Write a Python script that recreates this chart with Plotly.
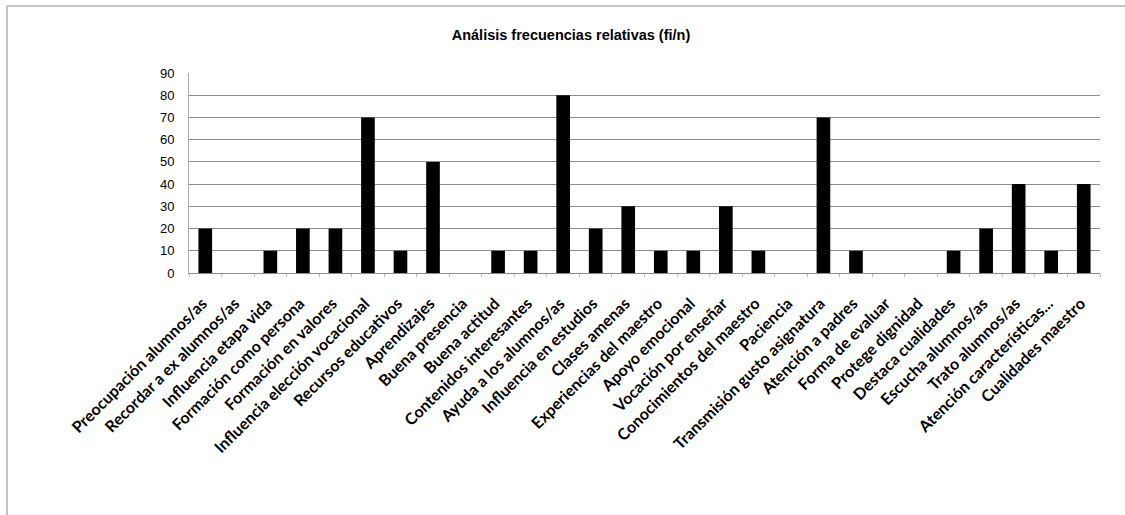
import plotly.graph_objects as go

categories = [
    "Preocupación alumnos/as", "Recordar a ex alumnos/as", "Influencia etapa vida",
    "Formación como persona", "Formación en valores", "Influencia elección vocacional",
    "Recursos educativos", "Aprendizajes", "Buena presencia", "Buena actitud",
    "Contenidos interesantes", "Ayuda a los alumnos/as", "Influencia en estudios",
    "Clases amenas", "Experiencias del maestro", "Apoyo emocional",
    "Vocación por enseñar", "Conocimientos del maestro", "Paciencia",
    "Transmisión gusto asignatura", "Atención a padres", "Forma de evaluar",
    "Protege dignidad", "Destaca cualidades", "Escucha alumnos/as",
    "Trato alumnos/as", "Atención características...", "Cualidades maestro",
]
values = [20, 0, 10, 20, 20, 70, 10, 50, 0, 10, 10, 80, 20, 30, 10, 10, 30, 10, 0,
          70, 10, 0, 0, 10, 20, 40, 10, 40]
y_ticks = [0, 10, 20, 30, 40, 50, 60, 70, 80, 90]
title = "Análisis frecuencias relativas (fi/n)"

W, H = 1125, 515
L, R, T, B = 189, 25, 73, 242
pw, ph = W - L - R, H - T - B

fig = go.Figure(go.Bar(x=categories, y=values, marker=dict(color="black", line=dict(width=0))))

fig.update_layout(
    width=W, height=H,
    margin=dict(l=L, r=R, t=T, b=B, autoexpand=False),
    paper_bgcolor="white", plot_bgcolor="white",
    bargap=0.58,
    showlegend=False,
    title=dict(text="<b>" + title + "</b>", x=(571 - L) / pw, xref="paper", xanchor="center",
               y=1 - 35 / H, yanchor="middle",
               font=dict(family="Liberation Sans Narrow, Liberation Sans, Arial", size=14.5, color="black")),
    xaxis=dict(tickangle=-45, tickfont=dict(family="Lato, Calibri, sans-serif", size=16, color="black", weight="bold"),
               showline=True, linecolor="#8c8c8c", linewidth=1,
               ticks="outside", tickson="boundaries", ticklen=3, tickcolor="#bbbbbb",
               ticklabelshift=-3, ticklabelstandoff=14,
               showgrid=False, automargin=False),
    yaxis=dict(range=[0, 90], tickvals=y_ticks, showgrid=True, gridcolor="#8c8c8c", gridwidth=1,
               tickfont=dict(family="Liberation Sans, Arial", size=13, color="black"),
               ticklabelstandoff=11,
               showline=True, linecolor="#aaaaaa", zeroline=False, ticks="", automargin=False),
)

fig.add_shape(type="rect", xref="paper", yref="paper",
              x0=(7 - L) / pw, x1=(W + 5 - L) / pw,
              y0=(H - B - (H + 5)) / ph, y1=(H - B - 6) / ph,
              line=dict(color="#8c8c8c", width=1), fillcolor="rgba(0,0,0,0)", layer="below")

fig.write_html("out.html", config={"displayModeBar": False},
               post_script="document.body.style.margin='0px';document.body.style.overflow='hidden';")
